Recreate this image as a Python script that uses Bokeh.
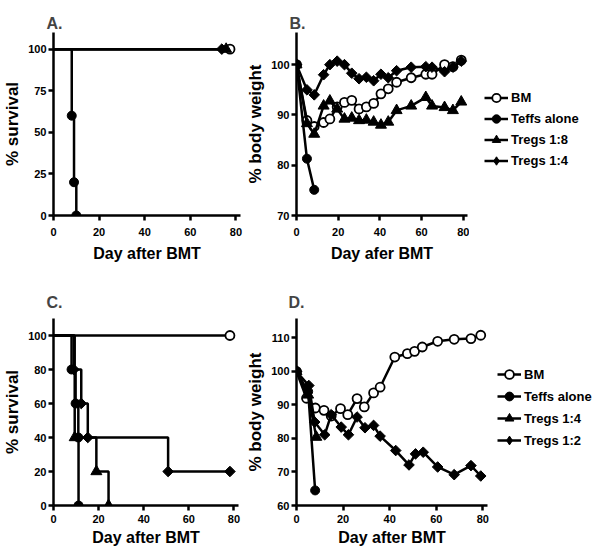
import numpy as np
from bokeh.plotting import figure
from bokeh.models import Range1d, FixedTicker, Legend, LegendItem
from bokeh.layouts import row, column
from bokeh.embed import file_html
from bokeh.resources import INLINE

# ---------------- data ----------------
# Panel A: % survival (Kaplan-Meier steps)
a_bm_t = [0, 77.4]
a_bm_s = [100, 100]
a_teff_t = [0, 8, 9, 10]
a_teff_s = [100, 60, 20, 0]
a_t18_t = [0, 75.7]
a_t18_s = [100, 100]
a_t14_t = [0, 73.8]
a_t14_s = [100, 100]

# Panel B: % body weight
b_days = [0, 5, 8.5, 13, 16, 19.5, 23, 26.5, 30, 33.5, 37, 40.5, 44, 48, 55, 62, 65, 71, 75, 79]
b_bm = [100, 88.9, 87.7, 88.5, 89.2, 91.6, 92.5, 92.9, 91.2, 91.6, 92.3, 94.2, 95.2, 96.5, 97.4, 98.1, 98.1, 100, 99.6, 100.9]
b_t18 = [100, 88.3, 86.2, 91.8, 92.8, 91.2, 89.2, 89.4, 88.9, 89.0, 88.6, 88.0, 88.6, 90.9, 91.8, 93.5, 91.8, 91.5, 90.9, 92.6]
b_t14 = [100, 95, 94, 98, 100, 100.7, 100, 98.3, 97.2, 97.5, 96.8, 98.1, 97.4, 98.8, 99.5, 99.6, 99.5, 98.6, 99.5, 100.7]
b_teff_days = [0, 5, 8.5]
b_teff = [100, 81.3, 75.1]

# Panel C: % survival
c_bm_t = [0, 78.2]
c_bm_s = [100, 100]
c_teff_t = [0, 8, 9.8, 11, 11.1]
c_teff_s = [100, 80, 60, 40, 0]
c_t14_t = [0, 9.4, 19, 24.4]
c_t14_s = [100, 40, 20, 0]
c_t12_t = [0, 9, 12.3, 15.2, 50.8, 78.2]
c_t12_s = [100, 80, 60, 40, 20, 20]

# Panel D: % body weight
d_bm_days = [0, 4.3, 8.1, 11.8, 14.9, 18.9, 22, 26, 29.1, 33.1, 35.9, 42.2, 47.6, 50.7, 54, 60.6, 67.7, 74.9, 79.1]
d_bm = [100, 92, 89.1, 88.4, 86.7, 88.9, 87.1, 91.9, 89.4, 93.6, 95.3, 104.3, 105.3, 106, 107.3, 109, 109.6, 109.8, 110.8]
d_t12_days = [0, 5.3, 7.8, 12.1, 14.9, 19.2, 22.3, 26, 29.4, 33.1, 35.9, 42.6, 48.3, 51.1, 54.4, 60.6, 67.7, 74.9, 79.1]
d_t12 = [100, 95.8, 84.9, 81.1, 87.1, 83.4, 81.1, 86.4, 83.2, 83.9, 80.7, 76.4, 72.1, 75.4, 75.9, 71.5, 69.2, 71.9, 68.8]
d_t14_days = [0, 5, 8.5]
d_t14 = [100, 93, 80.4]
d_teff_days = [0, 5, 8]
d_teff = [100, 94, 64.5]

x_ticks = [0, 20, 40, 60, 80]
legend_ab = ["BM", "Teffs alone", "Tregs 1:8", "Tregs 1:4"]
legend_cd = ["BM", "Teffs alone", "Tregs 1:4", "Tregs 1:2"]

FONT = "Liberation Sans"
LW = 2.5

MARK = {
    "circle_open": dict(marker="circle", size=9, fill_color="white", line_color="black", line_width=1.8),
    "circle": dict(marker="circle", size=9, fill_color="black", line_color="black"),
    "triangle": dict(marker="triangle", size=11, fill_color="black", line_color="black"),
    "diamond": dict(marker="square", size=7.5, angle=np.pi / 4, fill_color="black", line_color="black"),
}
LEG_MARK = dict(MARK)
LEG_MARK["diamond"] = dict(marker="diamond", size=10, fill_color="black", line_color="black")


def make_fig(w, h, yr, yticks, mb, letter, title_off, title_standoff, ylabel, xlabel,
             xl_standoff, xt_standoff):
    p = figure(width=w, height=h, x_range=Range1d(0, 82), y_range=Range1d(*yr),
               output_backend="svg", toolbar_location=None,
               min_border_left=mb[0], min_border_right=mb[1],
               min_border_top=mb[2], min_border_bottom=mb[3])
    p.xgrid.visible = False
    p.ygrid.visible = False
    p.outline_line_color = None
    p.background_fill_color = "white"
    p.border_fill_color = "white"
    p.xaxis.ticker = FixedTicker(ticks=x_ticks)
    p.yaxis.ticker = FixedTicker(ticks=yticks)
    p.xaxis.axis_label = xlabel
    p.yaxis.axis_label = ylabel
    for ax in (p.xaxis[0], p.yaxis[0]):
        ax.axis_line_width = LW
        ax.axis_line_color = "black"
        ax.major_tick_line_width = LW
        ax.major_tick_line_color = "black"
        ax.major_tick_out = 5
        ax.major_tick_in = 0
        ax.minor_tick_out = 0
        ax.minor_tick_in = 0
        ax.major_label_text_font = FONT
        ax.major_label_text_font_style = "bold"
        ax.major_label_text_font_size = "11px"
        ax.major_label_text_color = "black"
        ax.axis_label_text_font = FONT
        ax.axis_label_text_font_style = "bold"
        ax.axis_label_text_color = "black"
    p.xaxis.axis_label_text_font_size = "16px"
    p.yaxis.axis_label_text_font_size = "17px"
    p.xaxis.major_label_standoff = xt_standoff
    p.xaxis.axis_label_standoff = xl_standoff
    p.yaxis.major_label_standoff = 2
    p.yaxis.axis_label_standoff = 3
    p.title.text = letter
    p.title.text_font = FONT
    p.title.text_font_style = "bold"
    p.title.text_font_size = "16px"
    p.title.align = "left"
    p.title.offset = title_off
    p.title.standoff = title_standoff
    return p


def km(p, t, s, style):
    p.step(t, s, mode="after", line_color="black", line_width=LW)
    p.scatter(t[1:], s[1:], **MARK[style])


def series(p, x, y, style):
    p.line(x, y, line_color="black", line_width=LW)
    p.scatter(x, y, **MARK[style])


def legend_fig(w, h, mb, labels, data, styles, loc, lh):
    # a figure that only holds the legend; its view is far away from the data,
    # so the series themselves are clipped out and only the legend shows
    lf = figure(width=w, height=h, x_range=Range1d(1000, 1001), y_range=Range1d(1000, 1001),
                x_axis_type=None, y_axis_type=None,
                output_backend="svg", toolbar_location=None,
                min_border_left=mb[0], min_border_right=mb[1],
                min_border_top=mb[2], min_border_bottom=mb[3])
    lf.xgrid.visible = False
    lf.ygrid.visible = False
    lf.outline_line_color = None
    items = []
    for lab, (xs, ys), st in zip(labels, data, styles):
        l = lf.line(xs, ys, line_color="black", line_width=LW)
        s = lf.scatter(xs, ys, **LEG_MARK[st])
        items.append(LegendItem(label=lab, renderers=[l, s]))
    leg = Legend(items=items, location=loc, orientation="vertical",
                 label_text_font=FONT, label_text_font_style="bold",
                 label_text_font_size="13px", label_text_color="black",
                 glyph_width=24, glyph_height=lh, label_height=lh,
                 label_standoff=3, spacing=0, padding=0, margin=0,
                 border_line_color=None, background_fill_alpha=0)
    lf.add_layout(leg, "center")
    return lf


# ---- Panel A ----
pa = make_fig(243, 270, (0, 110), [0, 25, 50, 75, 100], (51, 3, 32, 55), "A.", -7, 1,
              "% survival", "Day after BMT", 6, 7)
km(pa, a_bm_t, a_bm_s, "circle_open")
km(pa, a_t18_t, a_t18_s, "triangle")
km(pa, a_t14_t, a_t14_s, "diamond")
km(pa, a_teff_t, a_teff_s, "circle")

# ---- Panel B ----
pb = make_fig(226, 270, (70, 106.4), [70, 80, 90, 100], (50, 2, 32, 55), "B.", -7, 1,
              "% body weight", "Day afer BMT", 6, 7)
series(pb, b_days, b_bm, "circle_open")
series(pb, b_days, b_t18, "triangle")
series(pb, b_days, b_t14, "diamond")
series(pb, b_teff_days, b_teff, "circle")
lb = legend_fig(132, 270, (0, 0, 32, 55), legend_ab,
                [(b_days, b_bm), (b_teff_days, b_teff), (b_days, b_t18), (b_days, b_t14)],
                ["circle_open", "circle", "triangle", "diamond"], (15, 44), 21)

# ---- Panel C ----
pc = make_fig(243, 288, (0, 110), [0, 20, 40, 60, 80, 100], (51, 5, 48, 53), "C.", -7, 16,
              "% survival", "Day after BMT", 3, 4)
km(pc, c_bm_t, c_bm_s, "circle_open")
km(pc, c_t12_t, c_t12_s, "diamond")
km(pc, c_t14_t, c_t14_s, "triangle")
km(pc, c_teff_t, c_teff_s, "circle")

# ---- Panel D ----
pd = make_fig(246, 288, (60, 115.8), [60, 70, 80, 90, 100, 110], (52, 2, 48, 53), "D.", -8, 16,
              "% body weight", "Day after BMT", 3, 4)
series(pd, d_bm_days, d_bm, "circle_open")
series(pd, d_t12_days, d_t12, "diamond")
series(pd, d_t14_days, d_t14, "triangle")
series(pd, d_teff_days, d_teff, "circle")
ld = legend_fig(112, 288, (0, 0, 48, 53), legend_cd,
                [(d_bm_days, d_bm), (d_teff_days, d_teff), (d_t14_days, d_t14), (d_t12_days, d_t12)],
                ["circle_open", "circle", "triangle", "diamond"], (8, 54), 22)

layout = column(row(pa, pb, lb), row(pc, pd, ld))
open("out.html", "w").write(file_html(layout, INLINE))
